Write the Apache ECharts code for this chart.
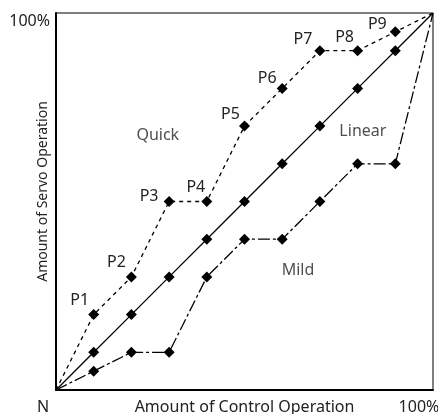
<!DOCTYPE html>
<html><head><meta charset="utf-8">
<script src="https://cdn.jsdelivr.net/npm/echarts@6/dist/echarts.min.js"></script>
<style>html,body{margin:0;padding:0;background:#fff}#c{width:438px;height:414px}</style>
</head><body><div id="c"></div>
<script>
// Data
var controlX = [0, 10, 20, 30, 40, 50, 60, 70, 80, 90, 100];
var quickY   = [0, 20, 30, 50, 50, 70, 80, 90, 90, 95, 100];
var linearY  = [0, 10, 20, 30, 40, 50, 60, 70, 80, 90, 100];
var mildY    = [0, 5, 10, 10, 30, 40, 40, 50, 60, 60, 100];
var pointNames = ['', 'P1', 'P2', 'P3', 'P4', 'P5', 'P6', 'P7', 'P8', 'P9', ''];
var regionNames = ['Quick', 'Linear', 'Mild'];
var xAxisName = 'Amount of Control Operation';
var yAxisName = 'Amount of Servo Operation';

// layout / style (not data)
var labelOffsets = [[0,0],[-14,-14],[-15,-14],[-20,-5],[-11,-14],[-14,-12],[-15,-10],[-17,-11],[-13,-13],[-18,-7],[0,0]];
var regionPos = [[27, 67.6], [81.4, 68.7], [64.2, 31.6]];
var FONT = 'Noto Sans';
var TXT = '#222';
var FS = 16;

function build(ys, withLabels) {
  return controlX.map(function (x, i) {
    var endpoint = (i === 0 || i === controlX.length - 1);
    var item = { value: [x, ys[i]], symbol: endpoint ? 'none' : 'diamond' };
    if (withLabels && pointNames[i]) {
      item.label = { show: true, formatter: pointNames[i], position: 'inside', offset: labelOffsets[i] };
    }
    return item;
  });
}

var chart = echarts.init(document.getElementById('c'), null, { renderer: 'canvas' });
var lineCommon = {
  type: 'line', symbolSize: 11, itemStyle: { color: '#000' }, animation: false, z: 3,
  label: { show: false, color: TXT, fontFamily: FONT, fontSize: FS }
};
chart.setOption({
  animation: false,
  textStyle: { fontFamily: FONT },
  grid: { left: 56, right: 5, top: 13, bottom: 24, outerBoundsMode: 'none', containLabel: false,
          show: true, borderColor: '#000', borderWidth: 1 },
  xAxis: {
    type: 'value', min: 0, max: 100, interval: 100,
    name: xAxisName, nameLocation: 'middle', nameGap: 9, nameMoveOverlap: false,
    nameTextStyle: { color: TXT, fontSize: FS, fontFamily: FONT, verticalAlign: 'top' },
    axisLine: { lineStyle: { color: '#000', width: 2 } }, axisTick: { show: false }, splitLine: { show: false },
    axisLabel: {
      color: TXT, fontSize: FS, fontFamily: FONT, margin: 9,
      formatter: function (v) { return v === 0 ? '{a|N}' : (v === 100 ? '{b|100%}' : ''); },
      rich: { a: { color: TXT, fontSize: FS, fontFamily: FONT, padding: [0, 26, 0, 0] },
              b: { color: TXT, fontSize: FS, fontFamily: FONT, padding: [0, 28, 0, 0] } }
    }
  },
  yAxis: {
    type: 'value', min: 0, max: 100, interval: 100,
    name: yAxisName, nameLocation: 'middle', nameGap: 6, nameMoveOverlap: false,
    nameTextStyle: { color: TXT, fontSize: 14, fontFamily: FONT, padding: [0, 0, 0, 20] },
    axisLine: { lineStyle: { color: '#000', width: 2 } }, axisTick: { show: false }, splitLine: { show: false },
    axisLabel: {
      color: TXT, fontSize: FS, fontFamily: FONT, margin: 6, verticalAlign: 'top',
      formatter: function (v) { return v === 100 ? '100%' : ''; }
    }
  },
  series: [
    Object.assign({}, lineCommon, { name: 'Quick', data: build(quickY, true),
      lineStyle: { color: '#000', width: 1.3, type: [4, 4] } }),
    Object.assign({}, lineCommon, { name: 'Linear', data: build(linearY, false),
      lineStyle: { color: '#000', width: 1.3, type: 'solid' } }),
    Object.assign({}, lineCommon, { name: 'Mild', data: build(mildY, false),
      lineStyle: { color: '#000', width: 1.3, type: [12, 3, 3, 3] } }),
    {
      type: 'scatter', symbolSize: 0, animation: false, silent: true,
      data: regionNames.map(function (n, i) { return { name: n, value: regionPos[i] }; }),
      label: { show: true, position: 'inside', formatter: '{b}', color: TXT, fontSize: FS, fontFamily: FONT }
    }
  ]
});
</script></body></html>
